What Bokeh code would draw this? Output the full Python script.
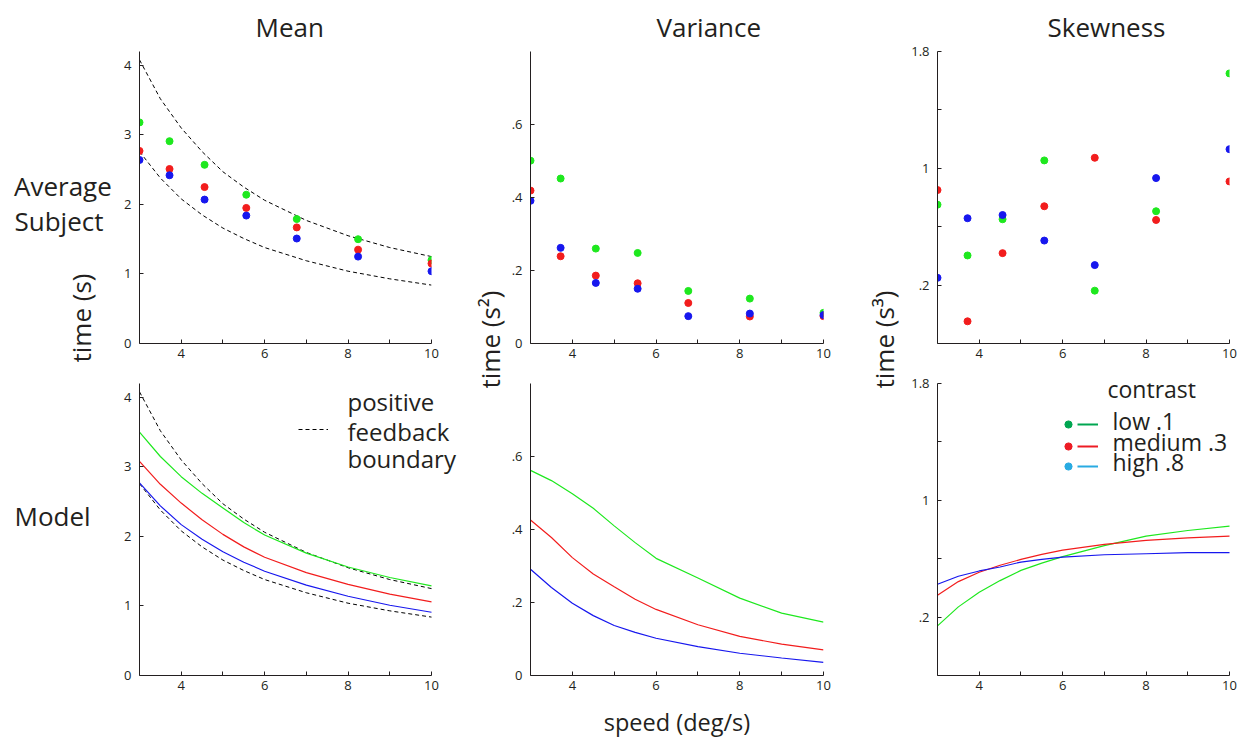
import math
from bokeh.plotting import figure
from bokeh.models import Range1d, FixedTicker, Label, Legend, LegendItem
from bokeh.core.properties import value
from bokeh.layouts import row, column
from bokeh.embed import file_html
from bokeh.resources import INLINE

FONT = "Open Sans"
TXT = "#231f20"
GREEN, RED, BLUE = "#1ee81e", "#f21d1d", "#1717ee"
LEG_GREEN, LEG_RED, LEG_BLUE = "#00a651", "#ed1c24", "#29abe2"

# ---- data: observed (average subject) ----
speed = [3.0, 3.72, 4.56, 5.56, 6.77, 8.24, 10.0]
mean_low = [3.18, 2.91, 2.57, 2.14, 1.79, 1.50, 1.20]
mean_med = [2.77, 2.51, 2.25, 1.95, 1.67, 1.35, 1.15]
mean_high = [2.64, 2.42, 2.07, 1.84, 1.51, 1.25, 1.04]
var_low = [0.501, 0.452, 0.260, 0.248, 0.144, 0.123, 0.084]
var_med = [0.419, 0.239, 0.186, 0.165, 0.111, 0.074, 0.075]
var_high = [0.391, 0.262, 0.166, 0.150, 0.075, 0.082, 0.078]
skew_low = [0.751, 0.403, 0.651, 1.054, 0.162, 0.706, 1.65]
skew_med = [0.851, -0.048, 0.419, 0.740, 1.072, 0.646, 0.910]
skew_high = [0.250, 0.658, 0.680, 0.505, 0.337, 0.933, 1.131]

# ---- data: model ----
model_speed = [3, 3.5, 4, 4.5, 5, 5.5, 6, 7, 8, 9, 10]
bound_hi = [4.08, 3.52, 3.10, 2.76, 2.47, 2.25, 2.06, 1.77, 1.55, 1.38, 1.25]
bound_lo = [2.76, 2.38, 2.08, 1.85, 1.66, 1.51, 1.38, 1.19, 1.04, 0.93, 0.84]
mmean_low = [3.50, 3.15, 2.86, 2.62, 2.41, 2.20, 2.02, 1.76, 1.56, 1.41, 1.29]
mmean_med = [3.08, 2.75, 2.48, 2.24, 2.03, 1.85, 1.70, 1.48, 1.31, 1.17, 1.06]
mmean_high = [2.77, 2.44, 2.17, 1.96, 1.78, 1.63, 1.50, 1.30, 1.14, 1.01, 0.91]
mvar_low = [0.562, 0.534, 0.498, 0.458, 0.410, 0.364, 0.321, 0.267, 0.212, 0.171, 0.146]
mvar_med = [0.426, 0.378, 0.323, 0.278, 0.243, 0.209, 0.181, 0.139, 0.107, 0.086, 0.070]
mvar_high = [0.291, 0.241, 0.198, 0.164, 0.137, 0.118, 0.102, 0.079, 0.061, 0.048, 0.036]
mskew_low = [0.14, 0.27, 0.37, 0.45, 0.52, 0.57, 0.614, 0.69, 0.755, 0.793, 0.823]
mskew_med = [0.35, 0.443, 0.507, 0.555, 0.595, 0.63, 0.659, 0.698, 0.725, 0.743, 0.755]
mskew_high = [0.425, 0.48, 0.516, 0.543, 0.577, 0.595, 0.611, 0.627, 0.634, 0.641, 0.641]

x_ticks = [4, 6, 8, 10]
x_minor = [5, 7, 9]
mean_ticks = [0, 1, 2, 3, 4]
var_ticks = [0, 0.2, 0.4, 0.6]
var_labels = {0: "0", 0.2: ".2", 0.4: ".4", 0.6: ".6"}
skew_ticks = [-0.2, 0.2, 0.6, 1, 1.4, 1.8]
skew_labels = {-0.2: "", 0.2: ".2", 0.6: "", 1: "1", 1.4: "", 1.8: "1.8"}

contrast_names = ["low .1", "medium .3", "high .8"]
stat_titles = ["Mean", "Variance", "Skewness"]

X0, X1 = 3, 10
FRAME_W = 292


def no_align(p):
    if "frame_align" in p.properties():
        p.frame_align = False


def make_fig(w, h, bl, br, bt, bb, yr, yticks, overrides=None, extra_right=0):
    # extra_right: frame extends past x=10 by this many pixels (axis line stays 3..10)
    x_end = X1 + (X1 - X0) * extra_right / FRAME_W
    p = figure(width=w, height=h, x_range=Range1d(X0, x_end), y_range=Range1d(*yr),
               output_backend="svg", toolbar_location=None,
               min_border_left=bl, min_border_right=br, min_border_top=bt, min_border_bottom=bb)
    no_align(p)
    p.outline_line_color = None
    p.grid.visible = False
    p.xaxis.ticker = FixedTicker(ticks=x_ticks, minor_ticks=x_minor)
    p.xaxis.bounds = (X0, X1)
    p.yaxis.ticker = FixedTicker(ticks=yticks)
    if overrides:
        p.yaxis.major_label_overrides = overrides
    for ax in (p.xaxis, p.yaxis):
        ax.axis_line_color = TXT
        ax.axis_line_width = 1
        ax.major_tick_line_color = TXT
        ax.minor_tick_line_color = TXT
        ax.major_tick_in = 4
        ax.major_tick_out = 0
        ax.minor_tick_in = 4
        ax.minor_tick_out = 0
        ax.major_label_text_font = FONT
        ax.major_label_text_font_size = "13px"
        ax.major_label_text_color = TXT
    p.xaxis.major_label_standoff = 5
    p.yaxis.major_label_standoff = 8
    return p


def set_title(p, text, offset):
    # left-aligned title shifted right by `offset` pixels from the frame's left edge
    p.title.text = text
    p.title.align = "left"
    p.title.offset = offset
    p.title.text_font = FONT
    p.title.text_font_size = "26px"
    p.title.text_font_style = "normal"
    p.title.text_color = TXT
    if "standoff" in p.title.properties():
        p.title.standoff = 13


def strip(w, h):
    p = figure(width=w, height=h, x_range=Range1d(0, w), y_range=Range1d(h, 0),
               x_axis_type=None, y_axis_type=None, output_backend="svg",
               toolbar_location=None, min_border=0)
    no_align(p)
    p.outline_line_color = None
    p.grid.visible = False
    return p


def lab(p, text, x, y, size, align="left", angle=0.0, units="screen"):
    p.add_layout(Label(x=x, y=y, x_units=units, y_units=units, text=text,
                       text_font=FONT, text_font_size=size, text_color=TXT,
                       text_align=align, text_baseline="middle", angle=angle))


def leg_glyph(p, renderer, x, y, gw, gh):
    lg = Legend(items=[LegendItem(label=value(" "), renderers=[renderer])],
                location=(x, y), glyph_width=gw, glyph_height=gh, label_height=gh,
                label_width=0, label_standoff=0, label_text_font_size="1px",
                padding=0, margin=0, spacing=0, border_line_color=None,
                background_fill_alpha=0, inactive_fill_alpha=0)
    p.add_layout(lg)


HT, HB = 371, 371

# ---- top row ----
t1 = make_fig(342, HT, 21, 29, 50, 28, (0, 4.2), mean_ticks)
set_title(t1, stat_titles[0], 116)
t1.line(model_speed, bound_hi, line_color="black", line_dash="4 3", line_width=1)
t1.line(model_speed, bound_lo, line_color="black", line_dash="4 3", line_width=1)
for ys, c in ((mean_low, GREEN), (mean_med, RED), (mean_high, BLUE)):
    t1.scatter(speed, ys, size=7, fill_color=c, line_color=c)

t2 = make_fig(352, HT, 22, 37, 50, 28, (0, 0.8), var_ticks, var_labels)
set_title(t2, stat_titles[1], 126)
for ys, c in ((var_low, GREEN), (var_med, RED), (var_high, BLUE)):
    t2.scatter(speed, ys, size=7, fill_color=c, line_color=c)

t3 = make_fig(336, HT, 33, 11, 50, 28, (-0.2, 1.8), skew_ticks, skew_labels)
set_title(t3, stat_titles[2], 110)
for ys, c in ((skew_low, GREEN), (skew_med, RED), (skew_high, BLUE)):
    t3.scatter(speed, ys, size=7, fill_color=c, line_color=c)

# ---- bottom row ----
b1 = make_fig(342, HB, 21, 0, 12, 67, (0, 4.2), mean_ticks, extra_right=29)
bh = b1.line(model_speed, bound_hi, line_color="black", line_dash="4 3", line_width=1)
b1.line(model_speed, bound_lo, line_color="black", line_dash="4 3", line_width=1)
for ys, c in ((mmean_low, GREEN), (mmean_med, RED), (mmean_high, BLUE)):
    b1.line(model_speed, ys, line_color=c, line_width=1.2)
lab(b1, "positive", 208, 274.5, "24px")
lab(b1, "feedback", 208, 244.5, "24px")
lab(b1, "boundary", 208, 217.5, "24px")
leg_glyph(b1, bh, 159, 242, 30, 8)

b2 = make_fig(352, HB, 22, 37, 12, 67, (0, 0.8), var_ticks, var_labels)
for ys, c in ((mvar_low, GREEN), (mvar_med, RED), (mvar_high, BLUE)):
    b2.line(model_speed, ys, line_color=c, line_width=1.2)
b2.xaxis.axis_label = "speed (deg/s)"
b2.xaxis.axis_label_text_font = FONT
b2.xaxis.axis_label_text_font_size = "23.5px"
b2.xaxis.axis_label_text_font_style = "normal"
b2.xaxis.axis_label_text_color = TXT
b2.xaxis.axis_label_standoff = 13

b3 = make_fig(336, HB, 33, 0, 12, 67, (-0.2, 1.8), skew_ticks, skew_labels, extra_right=11)
for ys, c in ((mskew_low, GREEN), (mskew_med, RED), (mskew_high, BLUE)):
    b3.line(model_speed, ys, line_color=c, line_width=1.2)
lab(b3, "contrast", 170, 287, "23px")
leg_y = [251, 229.5, 209.5]
text_y = [255, 233.5, 213.5]
leg_src = [(skew_low, mskew_low), (skew_med, mskew_med), (skew_high, mskew_high)]
for name, c, gy, ty, (obs, mod) in zip(contrast_names, (LEG_GREEN, LEG_RED, LEG_BLUE),
                                       leg_y, text_y, leg_src):
    dot = b3.scatter(speed, obs, size=7, fill_color=c, line_color=c, visible=False)
    ln = b3.line(model_speed, mod, line_color=c, line_width=2, visible=False)
    leg_glyph(b3, dot, 122, gy - 9, 18, 18)
    leg_glyph(b3, ln, 140, gy - 4, 21, 8)
    lab(b3, name, 175, ty, "23px")

# ---- side text strips ----
s0 = strip(118, HT + HB)
lab(s0, "Average", 13.5, 185, "26px", units="data")
lab(s0, "Subject", 14, 220, "26px", units="data")
lab(s0, "Model", 14, 515, "26px", units="data")
lab(s0, "time (s)", 80, 273, "26px", align="right", angle=math.pi / 2, units="data")

s1 = strip(48, HT + HB)
lab(s1, "time (s\u00b2)", 29, 290, "26px", align="right", angle=math.pi / 2, units="data")

s2 = strip(44, HT + HB)
lab(s2, "time (s\u00b3)", 23, 290, "26px", align="right", angle=math.pi / 2, units="data")

layout = row(s0, column(t1, b1), s1, column(t2, b2), s2, column(t3, b3))
open("out.html", "w").write(file_html(layout, INLINE))
